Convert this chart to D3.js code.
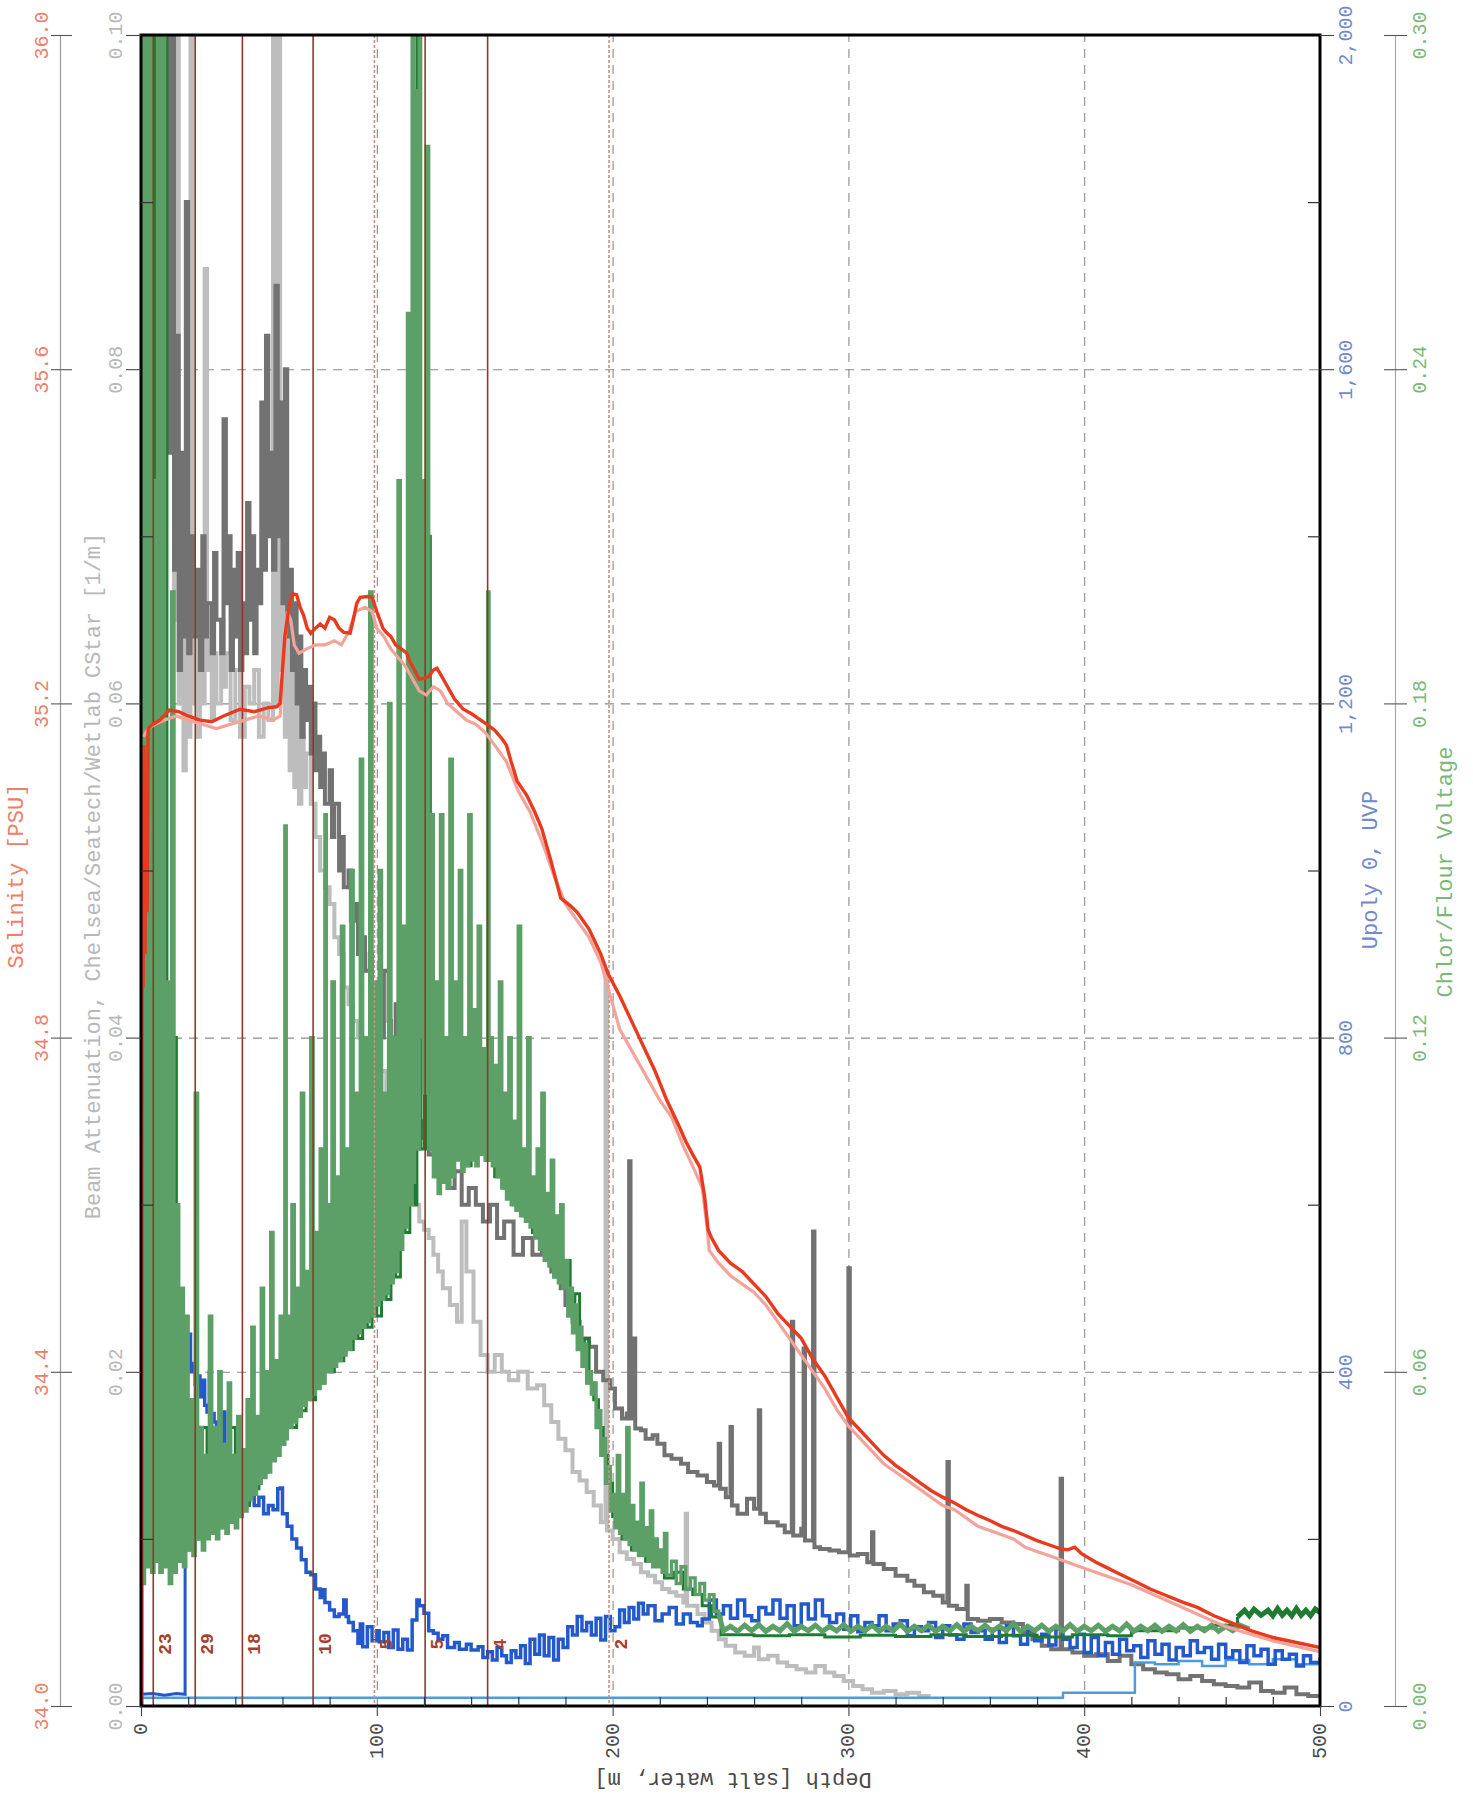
<!DOCTYPE html>
<html><head><meta charset="utf-8">
<script src="https://cdn.jsdelivr.net/npm/d3@7"></script>
<style>
html,body{margin:0;padding:0;background:#fff;}
svg{display:block;font-family:"Liberation Mono","DejaVu Sans Mono",monospace;}
</style></head><body>
<svg id="chart" width="1473" height="1796"></svg>
<script>
// ---------------- DATA ----------------
const depthTicks = [0,100,200,300,400,500];
const salinityTicks = [34.0,34.4,34.8,35.2,35.6,36.0];
const beamTicks = [0.00,0.02,0.04,0.06,0.08,0.10];
const upolyTicks = [0,400,800,1200,1600,2000];
const chlorTicks = [0.00,0.06,0.12,0.18,0.24,0.30];

const bottleDepths = [5.2,23,43,73,99,120.5,147,198.5];
const bottleLabels = ["23","29","18","10","5","5","4","2"];

// Salinity [PSU] – downcast (red)
const salinityDown = [[0.3,33.0],[0.5,35.1],[0.9,34.86],[1.3,35.15],[1.7,34.9],[2.1,35.12],[2.6,34.95],[3,35.17],[5,35.175],[8,35.18],[12,35.192],[16,35.19],[20,35.185],[25,35.18],[30,35.178],[35,35.185],[42,35.193],[48,35.19],[54,35.195],[57.5,35.196],[59,35.2],[61,35.28],[63,35.32],[64.5,35.331],[66,35.33],[67.5,35.315],[69,35.305],[70.5,35.29],[72,35.284],[74,35.29],[76,35.295],[78,35.29],[80,35.303],[82,35.3],[84,35.29],[86,35.285],[88.7,35.284],[90,35.3],[91.5,35.32],[93,35.327],[96,35.328],[98,35.327],[100,35.31],[102.6,35.29],[104,35.285],[106,35.28],[108,35.27],[110.5,35.265],[112.7,35.26],[114,35.25],[116,35.24],[118,35.229],[120,35.23],[122,35.232],[124,35.24],[125.5,35.242],[127,35.235],[129,35.225],[131,35.215],[133,35.205],[136.7,35.193],[140,35.188],[143,35.182],[146.7,35.175],[150,35.168],[153,35.158],[155,35.15],[157,35.13],[159.5,35.107],[163.6,35.09],[167,35.07],[170,35.05],[174,35.01],[178,34.967],[182,34.958],[185,34.95],[190,34.93],[195,34.9],[198,34.877],[203,34.85],[208,34.82],[213,34.79],[218,34.76],[223,34.725],[228,34.695],[231,34.676],[234,34.66],[237,34.645],[239,34.61],[240.5,34.57],[242,34.56],[245,34.545],[250,34.53],[255,34.52],[260,34.505],[265,34.49],[270,34.47],[275,34.455],[280,34.44],[285,34.415],[290,34.395],[295,34.37],[300,34.345],[305,34.33],[310,34.315],[315,34.3],[320,34.288],[325,34.278],[330,34.268],[335,34.258],[340,34.25],[345,34.243],[350,34.235],[355,34.228],[360,34.222],[365,34.215],[370,34.21],[375,34.204],[380,34.198],[385,34.193],[390,34.188],[393,34.187],[396,34.19],[399,34.182],[405,34.172],[410,34.165],[415,34.158],[421,34.15],[428,34.14],[435,34.132],[442,34.124],[448,34.118],[455,34.108],[462,34.1],[471,34.09],[480,34.082],[490,34.076],[500,34.07]];

// Salinity – upcast (pink)
const salinityUp = [[1,35.16],[3,35.17],[6,35.175],[10,35.18],[15,35.185],[20,35.18],[26,35.175],[32,35.17],[38,35.175],[44,35.18],[50,35.185],[56,35.18],[59,35.185],[60.5,35.25],[62,35.31],[63.5,35.3],[65,35.27],[67,35.26],[70,35.265],[74,35.27],[78,35.27],[82,35.275],[85,35.27],[88,35.285],[91,35.31],[95,35.315],[98,35.31],[100,35.29],[103,35.28],[106,35.265],[109,35.255],[112,35.245],[115,35.23],[118,35.215],[121,35.21],[124,35.22],[127,35.215],[130,35.2],[134,35.19],[138,35.18],[142,35.175],[146,35.165],[150,35.15],[155,35.13],[160,35.095],[165,35.07],[170,35.035],[175,34.995],[180,34.96],[185,34.94],[190,34.92],[195,34.89],[198,34.86],[200,34.84],[203,34.81],[205,34.8],[210,34.775],[215,34.75],[220,34.725],[225,34.705],[230,34.67],[235,34.64],[238,34.62],[240,34.575],[241,34.545],[245,34.53],[250,34.515],[255,34.505],[260,34.495],[265,34.48],[270,34.46],[275,34.44],[280,34.42],[285,34.4],[290,34.38],[295,34.355],[300,34.335],[305,34.32],[310,34.305],[315,34.29],[320,34.28],[325,34.27],[330,34.26],[335,34.25],[340,34.24],[345,34.235],[350,34.225],[355,34.215],[360,34.21],[365,34.205],[370,34.2],[375,34.19],[380,34.185],[385,34.18],[390,34.175],[395,34.17],[400,34.165],[420,34.145],[440,34.12],[460,34.095],[480,34.078],[500,34.065]];

// Beam attenuation [1/m] – dark gray
const beamDark = [[0,0.12],[12,0.075],[13,0.1],[14,0.068],[15,0.082],[16,0.062],[17,0.075],[18,0.064],[19,0.09],[20,0.063],[21,0.07],[22,0.064],[24,0.068],[25,0.062],[26,0.07],[27,0.064],[28,0.066],[30,0.063],[31,0.069],[32,0.065],[34,0.063],[35,0.077],[36,0.066],[37,0.07],[38,0.062],[39,0.068],[40,0.064],[41,0.069],[42,0.062],[43,0.066],[44,0.063],[45,0.072],[46,0.065],[47,0.07],[48,0.063],[49,0.068],[50,0.066],[51,0.078],[52,0.068],[53,0.082],[54,0.07],[55,0.075],[56,0.068],[57,0.085],[58,0.07],[59,0.078],[60,0.066],[61,0.08],[62,0.064],[63,0.068],[64,0.062],[65,0.066],[66,0.06],[67,0.064],[68,0.058],[69,0.062],[70,0.059],[71,0.061],[72,0.057],[73,0.06],[74,0.056],[75,0.058],[76,0.055],[77,0.057],[78,0.054],[80,0.056],[81,0.052],[82,0.054],[84,0.05],[85,0.052],[86,0.049],[88,0.05],[89,0.047],[91,0.048],[92,0.045],[94,0.046],[95,0.044],[97,0.045],[98,0.042],[100,0.043],[101,0.04],[103,0.044],[105,0.041],[106,0.04],[108,0.042],[110,0.039],[112,0.038],[114,0.036],[116,0.037],[118,0.034],[120,0.035],[122,0.033],[124,0.034],[126,0.032],[128,0.033],[130,0.031],[133,0.032],[136,0.03],[139,0.031],[142,0.03],[145,0.029],[148,0.03],[151,0.028],[154,0.029],[158,0.027],[162,0.028],[166,0.027],[170,0.0275],[174,0.026],[178,0.025],[180,0.024],[183,0.023],[186,0.022],[190,0.0215],[193,0.02],[196,0.0195],[199,0.019],[201,0.0178],[204,0.0172],[206,0.0175],[207,0.0326],[207.6,0.0172],[209,0.022],[209.6,0.0166],[212,0.0165],[214,0.016],[217,0.0162],[219,0.0157],[222,0.015],[225,0.0148],[229,0.0145],[232,0.014],[236,0.0138],[240,0.0134],[243,0.0132],[245,0.0157],[245.6,0.013],[248,0.0125],[250,0.0167],[250.6,0.012],[253,0.0115],[257,0.0124],[260,0.0118],[262,0.0177],[262.6,0.0115],[265,0.011],[270,0.0108],[273,0.0104],[276,0.023],[276.6,0.0102],[280,0.0106],[281,0.0214],[281.6,0.0099],[285,0.0284],[285.6,0.0095],[288,0.0094],[292,0.0093],[296,0.0092],[300,0.0262],[300.6,0.009],[304,0.0091],[308,0.0086],[310,0.0104],[310.6,0.0085],[315,0.0082],[320,0.0078],[325,0.0075],[328,0.0072],[332,0.0068],[336,0.0066],[340,0.0062],[342,0.0146],[342.6,0.006],[346,0.0058],[350,0.0072],[350.6,0.0052],[355,0.0051],[360,0.0052],[365,0.005],[370,0.0049],[374,0.0044],[378,0.004],[382,0.0036],[386,0.0034],[390,0.0136],[390.6,0.0034],[395,0.0032],[400,0.003],[405,0.0031],[410,0.0027],[415,0.003],[420,0.0025],[425,0.0022],[430,0.002],[435,0.0019],[440,0.0016],[445,0.0018],[450,0.0015],[455,0.0013],[460,0.0012],[465,0.0011],[470,0.0014],[475,0.0009],[480,0.0008],[485,0.0011],[490,0.0007],[495,0.0006],[500,0.0007]];

// Beam attenuation – light gray
const beamLight = [[0,0.12],[13,0.1],[14,0.065],[15,0.12],[16,0.06],[17,0.07],[18,0.056],[19,0.068],[20,0.058],[21,0.12],[22,0.06],[23,0.066],[24,0.058],[25,0.064],[26,0.06],[27,0.086],[28,0.062],[29,0.066],[30,0.059],[31,0.063],[32,0.06],[34,0.065],[35,0.061],[36,0.063],[38,0.059],[40,0.062],[42,0.058],[44,0.061],[46,0.06],[48,0.062],[50,0.058],[52,0.06],[54,0.059],[56,0.12],[57,0.06],[58,0.1],[59,0.062],[60,0.066],[61,0.058],[62,0.064],[63,0.056],[64,0.062],[65,0.055],[66,0.06],[67,0.054],[68,0.058],[69,0.055],[70,0.057],[72,0.054],[74,0.052],[76,0.05],[78,0.049],[80,0.048],[82,0.046],[84,0.045],[86,0.043],[88,0.042],[90,0.041],[92,0.04],[94,0.039],[96,0.038],[98,0.037],[100,0.036],[102,0.038],[104,0.036],[106,0.035],[108,0.034],[110,0.033],[112,0.032],[114,0.031],[116,0.03],[118,0.029],[120,0.0285],[122,0.028],[124,0.027],[126,0.026],[128,0.025],[131,0.024],[134,0.023],[136,0.029],[138,0.026],[141,0.023],[144,0.021],[147,0.02],[150,0.021],[153,0.02],[156,0.0195],[160,0.02],[164,0.019],[168,0.0192],[171,0.018],[174,0.017],[177,0.016],[180,0.0153],[183,0.014],[186,0.0135],[189,0.0128],[192,0.012],[195,0.011],[197,0.044],[197.6,0.0105],[200,0.01],[203,0.0092],[206,0.0088],[209,0.0085],[212,0.008],[215,0.0078],[218,0.0074],[221,0.007],[224,0.0068],[227,0.0066],[230,0.0062],[231,0.0115],[231.6,0.006],[233,0.006],[236,0.0055],[239,0.005],[242,0.0045],[245,0.004],[248,0.0036],[252,0.0032],[256,0.003],[260,0.0035],[262,0.0028],[266,0.003],[270,0.0026],[274,0.0024],[278,0.0022],[282,0.002],[286,0.0024],[290,0.002],[294,0.0018],[298,0.0015],[302,0.0012],[306,0.001],[310,0.0008],[315,0.0009],[320,0.0007],[325,0.0008],[330,0.0006],[334,0.0005]];

// Upoly 0, UVP – dark blue (surface leg and profile)
const upolySurface = [[0,14],[5,15],[10,13],[15,15],[18.7,14],[18.7,440]];
const upolyUpper = [[8.3,1140],[8.3,527],[10,530],[11.5,527],[13,520],[15,480],[17.5,450]];
const upolyProfile = [[18.7,440],[20,445],[21,400],[22,410],[23,385],[24,395],[25,370],[26,390],[27,360],[28,352],[29,400],[29.6,350],[31,340],[32,320],[33,335],[34,310],[35,352],[35.6,306],[36,300],[37,270],[38,254],[40,250],[42,265],[44,245],[46,255],[48,240],[50,250],[52,230],[54,240],[56,235],[58,260],[59,261],[60,230],[62,215],[64,200],[66,189],[68,175],[70,160],[72,157],[74,140],[76,130],[77,139],[78,124],[80,115],[82,107],[84,110],[86,127],[87,107],[88,100],[90,90],[92,75],[93,98],[94,71],[96,95],[98,78],[100,90],[101,77],[103,88],[105,70],[107,91],[109,68],[111,80],[113,67],[115,103],[117,127],[118,120],[120,111],[122,90],[124,87],[126,80],[128,84],[130,70],[133,76],[135,68],[138,74],[140,67],[143,71],[145,58],[147,65],[149,55],[151,70],[153,60],[155,52],[157,66],[159,58],[161,72],[163,51],[165,80],[167,62],[169,85],[171,60],[173,82],[175,55],[177,80],[179,70],[181,95],[183,85],[185,107],[187,90],[189,100],[191,85],[193,105],[195,79],[197,107],[199,90],[201,95],[203,115],[205,100],[207,118],[209,104],[211,123],[213,110],[215,120],[218,102],[221,110],[224,118],[227,98],[230,110],[233,100],[236,96],[238,104],[241,127],[244,110],[247,120],[250,105],[253,127],[256,108],[259,102],[262,118],[265,110],[268,127],[271,105],[274,120],[277,96],[280,122],[283,104],[286,127],[289,108],[292,100],[295,110],[298,92],[301,108],[304,89],[307,100],[310,96],[313,108],[316,90],[319,98],[322,102],[325,84],[328,95],[331,90],[334,100],[337,82],[340,96],[343,85],[346,80],[349,98],[352,88],[355,90],[358,80],[361,92],[364,76],[367,96],[370,84],[373,74],[376,90],[379,78],[382,86],[385,73],[388,92],[391,80],[394,70],[397,86],[400,64],[403,82],[406,60],[409,76],[412,62],[415,80],[418,66],[421,72],[424,58],[427,78],[430,62],[433,74],[436,55],[439,70],[442,60],[445,78],[448,64],[451,70],[454,56],[457,74],[460,58],[463,66],[466,52],[469,72],[472,60],[475,68],[478,50],[481,66],[484,56],[487,62],[490,48],[493,60],[496,52],[500,58]];

// Upoly – light blue
const upolyLight = [[0,10],[200,10],[390,10],[391,16],[421,16],[421.5,52],[430,50],[440,54],[450,48],[460,55],[470,50],[480,56],[490,50],[500,54]];

// Chlor/Flour Voltage – medium green (upper column)
const chlorA = [[0,0.35],[1,0.022],[1.5,0.35],[2.5,0.025],[3.5,0.35],[4.5,0.024],[5.5,0.22],[6.3,0.026],[7,0.35],[8,0.024],[9,0.35],[10,0.025],[11,0.13],[12,0.022],[13,0.2],[14,0.024],[15,0.09],[16,0.026],[17,0.075],[18,0.025],[19,0.07],[20,0.028],[21,0.055],[22,0.027],[23,0.11],[24,0.03],[25,0.05],[26,0.028],[27,0.045],[28,0.03],[29,0.07],[30,0.031],[31,0.05],[32,0.03],[33,0.06],[34,0.032],[35,0.047],[36,0.031],[37,0.058],[38,0.033],[39,0.045],[40,0.032],[41,0.052],[42,0.034],[43,0.046],[44,0.035],[45,0.055],[46,0.037],[47,0.068],[48,0.038],[49,0.052],[50,0.04],[51,0.075],[52,0.041],[53,0.06],[54,0.042],[55,0.085],[56,0.044],[57,0.062],[58,0.045],[59,0.07],[60,0.047],[61,0.158],[61.6,0.048],[62,0.07],[63,0.05],[64,0.09],[65,0.051],[66,0.075],[67,0.052],[68,0.11],[69,0.054],[70,0.078],[71,0.055],[72,0.12],[73,0.056],[74,0.085],[75,0.057],[76,0.1],[77,0.058],[78,0.16],[78.6,0.06],[79,0.09],[80,0.06],[81,0.13],[82,0.061],[83,0.095],[84,0.062],[85,0.14],[86,0.063],[87,0.1],[88,0.064],[89,0.15],[90,0.066],[91,0.11],[92,0.067],[93,0.17],[94,0.068],[95,0.12],[96,0.069],[97,0.2],[98,0.07],[99,0.13],[100,0.072],[101,0.15],[102,0.073],[103,0.11],[104,0.074],[105,0.18],[106,0.076],[107,0.12],[108,0.078],[109,0.22],[110,0.082],[111,0.14],[112,0.086],[113,0.25],[114,0.09],[115,0.3],[115.6,0.094],[116,0.29],[117,0.1],[118,0.35],[118.6,0.12],[119,0.22],[120,0.11],[121,0.28],[122,0.1],[123,0.16],[124,0.095],[125,0.13],[126,0.092],[127,0.16],[128,0.094],[129,0.12],[130,0.093],[131,0.17],[132,0.095],[133,0.13],[134,0.098],[135,0.15],[136,0.096],[137,0.12],[138,0.097],[139,0.16],[140,0.098],[141,0.125],[142,0.097],[143,0.14],[144,0.099],[145,0.118],[146,0.098],[147,0.2],[147.6,0.098],[148,0.12],[149,0.097],[150,0.115],[151,0.095],[152,0.13],[153,0.093],[154,0.11],[155,0.091],[156,0.12],[157,0.09],[158,0.105],[159,0.089],[160,0.14],[161,0.088],[162,0.1],[163,0.087],[164,0.12],[165,0.086],[166,0.095],[167,0.084],[168,0.1],[169,0.082],[170,0.11],[171,0.08],[172,0.092],[173,0.079],[174,0.098],[175,0.077],[176,0.088],[177,0.076],[178,0.09],[179,0.075],[180,0.08],[181,0.07],[182,0.075],[183,0.067],[184,0.072],[185,0.064],[186,0.068],[187,0.061],[188,0.065],[189,0.058],[190,0.06],[191,0.056],[192,0.058],[193,0.05],[194,0.053],[195,0.045],[196,0.048],[197,0.04],[198,0.043],[199,0.035],[200,0.038],[201,0.032],[202,0.045],[203,0.031],[204,0.038],[205,0.03],[206,0.05],[207,0.029],[208,0.036],[209,0.028],[210,0.033],[211,0.027],[212,0.04],[213,0.027],[214,0.032],[215,0.026],[216,0.035],[217,0.025],[218,0.03],[219,0.025],[220,0.028],[221,0.024],[222,0.031],[223,0.0235],[225,0.026],[227,0.022],[229,0.025],[231,0.021],[233,0.023],[235,0.02],[237,0.022],[239,0.019],[241,0.02],[243,0.017],[245,0.0165]];
// medium green deep tail (thick band)
const chlorATail = [[245,0.0165],[247,0.0135],[250,0.0143],[253,0.0134],[256,0.0145],[259,0.0135],[262,0.0146],[265,0.0134],[268,0.0143],[271,0.0135],[274,0.0148],[277,0.0134],[280,0.0143],[283,0.0135],[286,0.0145],[289,0.0134],[292,0.0143],[295,0.0135],[298,0.0146],[301,0.0134],[304,0.0143],[307,0.0135],[310,0.0145],[313,0.0134],[316,0.0143],[319,0.0135],[322,0.0147],[325,0.0134],[328,0.0143],[331,0.0135],[334,0.0145],[337,0.0134],[340,0.0143],[343,0.0135],[346,0.0146],[349,0.0134],[352,0.0143],[355,0.0135],[358,0.0145],[361,0.0134],[364,0.0143],[367,0.0135],[370,0.0148],[373,0.0134],[376,0.0143],[379,0.0135],[382,0.0145],[385,0.0134],[388,0.0143],[391,0.0135],[394,0.0146],[397,0.0134],[400,0.0143],[403,0.0135],[406,0.0145],[409,0.0134],[412,0.0143],[415,0.0135],[418,0.0147],[421,0.0134],[424,0.0143],[427,0.0135],[430,0.0145],[433,0.0134],[436,0.0143],[439,0.0135],[442,0.0146],[445,0.0134],[448,0.0143],[451,0.0135],[454,0.0145],[457,0.0134],[460,0.0143],[463,0.0135],[466,0.0145],[470,0.0138]];

// Chlor/Flour Voltage – dark green
const chlorB = [[0,0.35],[0.8,0.03],[2,0.35],[3,0.028],[4,0.35],[5,0.03],[6,0.35],[6.8,0.027],[8,0.3],[9,0.026],[10,0.35],[11,0.028],[12,0.09],[13,0.027],[14,0.12],[15,0.028],[16,0.06],[17,0.027],[18,0.05],[19,0.03],[20,0.028],[22,0.042],[24,0.03],[26,0.05],[28,0.031],[30,0.045],[32,0.032],[34,0.04],[36,0.033],[38,0.05],[40,0.034],[42,0.043],[44,0.036],[46,0.045],[48,0.039],[50,0.05],[52,0.042],[54,0.05],[56,0.045],[58,0.055],[60,0.048],[62,0.06],[64,0.05],[66,0.062],[68,0.053],[70,0.064],[72,0.055],[74,0.065],[76,0.058],[78,0.068],[80,0.06],[82,0.07],[84,0.062],[86,0.072],[88,0.064],[90,0.075],[92,0.066],[94,0.078],[96,0.068],[98,0.08],[100,0.07],[102,0.085],[104,0.073],[106,0.09],[108,0.077],[110,0.1],[112,0.085],[114,0.12],[116,0.09],[117,0.35],[117.8,0.3],[118.5,0.1],[120,0.13],[121,0.1],[122,0.21],[122.7,0.1],[124,0.11],[126,0.097],[128,0.105],[130,0.096],[132,0.11],[134,0.1],[136,0.105],[138,0.097],[140,0.11],[142,0.099],[144,0.104],[146,0.098],[148,0.106],[150,0.095],[152,0.1],[154,0.093],[156,0.098],[158,0.09],[160,0.095],[162,0.088],[164,0.093],[166,0.085],[168,0.09],[170,0.082],[172,0.088],[174,0.08],[176,0.085],[178,0.076],[180,0.08],[182,0.072],[184,0.074],[186,0.065],[188,0.066],[190,0.058],[192,0.055],[194,0.05],[196,0.045],[198,0.04],[200,0.034],[202,0.036],[204,0.03],[206,0.033],[208,0.028],[210,0.03],[214,0.026],[218,0.027],[222,0.023],[226,0.024],[230,0.021],[234,0.02],[238,0.018],[242,0.016],[246,0.0128],[260,0.0126],[275,0.0128],[290,0.0124],[305,0.0127],[320,0.0125],[335,0.0128],[350,0.0125],[365,0.0127],[380,0.0124],[395,0.0128],[410,0.0126],[420,0.0135],[440,0.014],[455,0.0145],[465,0.016]];
// dark green deep tail (thick band)
const chlorBTail = [[465,0.016],[468,0.0172],[470,0.0162],[472,0.0174],[475,0.0163],[478,0.0172],[480,0.0162],[482,0.0175],[484,0.0163],[486,0.0172],[488,0.0162],[490,0.0175],[492,0.0163],[494,0.0172],[496,0.0162],[498,0.0174],[500,0.0168]];

// ---------------- DRAWING ----------------
const svg = d3.select("#chart");
const L = 141, R = 1320, T = 35, B = 1706;
const x = d3.scaleLinear([0,500],[L,R]);
const ySal = d3.scaleLinear([34,36],[B,T]);
const yBeam = d3.scaleLinear([0,0.1],[B,T]);
const yUp = d3.scaleLinear([0,2000],[B,T]);
const yChl = d3.scaleLinear([0,0.3],[B,T]);

svg.append("rect").attr("width",1473).attr("height",1796).attr("fill","#fff");

svg.append("defs").append("clipPath").attr("id","plotclip")
  .append("rect").attr("x",L).attr("y",T).attr("width",R-L).attr("height",B-T);

// gridlines
const gridH = svg.append("g").attr("transform",`translate(${L},0)`)
  .call(d3.axisRight(yBeam).tickValues([0.02,0.04,0.06,0.08]).tickSize(R-L).tickFormat(""));
const gridV = svg.append("g").attr("transform",`translate(0,${B})`)
  .call(d3.axisTop(x).tickValues([100,200,300,400]).tickSize(B-T).tickFormat(""));
[gridH,gridV].forEach(g=>{
  g.select(".domain").remove();
  g.selectAll("line").attr("stroke","#8a8a8a").attr("stroke-width",1.1).attr("stroke-dasharray","9,7");
});

// data layer
const plot = svg.append("g").attr("clip-path","url(#plotclip)");
const step = d3.curveStepAfter;
function drawLine(data, yScale, color, width, curve){
  plot.append("path").datum(data)
    .attr("fill","none").attr("stroke",color).attr("stroke-width",width)
    .attr("stroke-linejoin","miter")
    .attr("d", d3.line().x(d=>x(d[0])).y(d=>yScale(d[1])).curve(curve||d3.curveLinear));
}
drawLine(beamLight, yBeam, "#bdbdbd", 4, step);
drawLine(beamDark, yBeam, "#727272", 4, step);
drawLine(upolyLight, yUp, "#4c9be0", 2.5, step);
drawLine(upolySurface, yUp, "#2459cc", 3, d3.curveLinear);
drawLine(upolyUpper, yUp, "#2459cc", 3, step);
drawLine(upolyProfile, yUp, "#2459cc", 3.5, step);
drawLine(chlorB, yChl, "#1f7b32", 3, step);
drawLine(chlorBTail, yChl, "#1f7b32", 5, d3.curveLinear);
drawLine(chlorA, yChl, "#5c9f67", 3.4, step);
drawLine(chlorATail, yChl, "#5c9f67", 5, d3.curveLinear);

// bottle lines
const bottles = plot.append("g");
bottles.selectAll("line").data(bottleDepths).join("line")
  .attr("x1",d=>x(d)).attr("x2",d=>x(d)).attr("y1",T).attr("y2",B)
  .attr("stroke",(d,i)=> (i===4||i===7)?"#c89080":"#8c3a26")
  .attr("stroke-width",1.6)
  .attr("stroke-dasharray",(d,i)=> (i===4||i===7)?"3,2":null);
bottles.selectAll("text").data(bottleDepths).join("text")
  .attr("transform",d=>`translate(${x(d)+13},1644) rotate(-90)`)
  .attr("text-anchor","middle").attr("dominant-baseline","central")
  .attr("font-size",18).attr("font-weight","bold").attr("fill","#a8402c")
  .text((d,i)=>bottleLabels[i]);

drawLine(salinityUp, ySal, "#f4a39a", 3.2);
drawLine(salinityDown, ySal, "#e83a1e", 3.4);

// frame
svg.append("rect").attr("x",L).attr("y",T).attr("width",R-L).attr("height",B-T)
  .attr("fill","none").attr("stroke","#000").attr("stroke-width",3);

// inner minor ticks
const minL = svg.append("g").attr("transform",`translate(${L},0)`)
  .call(d3.axisLeft(yBeam).tickValues([0.01,0.03,0.05,0.07,0.09]).tickSize(-12).tickFormat(""));
const minR = svg.append("g").attr("transform",`translate(${R},0)`)
  .call(d3.axisRight(yUp).tickValues([200,600,1000,1400,1800]).tickSize(-12).tickFormat(""));
const minB = svg.append("g").attr("transform",`translate(0,${B})`)
  .call(d3.axisBottom(x).tickValues(d3.range(20,500,20).filter(v=>v%100!==0)).tickSize(-9).tickFormat(""));
[minL,minR,minB].forEach(g=>{g.select(".domain").remove(); g.selectAll("line").attr("stroke","#333").attr("stroke-width",1.2);});

function styleRot(g, color, offX, offY, anchor){
  g.selectAll(".tick text")
    .attr("x",null).attr("y",null).attr("dy",null)
    .attr("transform",`translate(${offX},${offY}) rotate(-90)`)
    .attr("text-anchor",anchor||"middle").attr("dominant-baseline","central")
    .attr("fill",color).attr("font-size",20).attr("font-family","Liberation Mono, monospace");
}

// Beam axis (left frame)
const gBeam = svg.append("g").attr("transform",`translate(${L},0)`)
  .call(d3.axisLeft(yBeam).tickValues(beamTicks).tickSize(15).tickSizeOuter(0).tickFormat(d3.format(".2f")));
gBeam.select(".domain").remove();
gBeam.selectAll("line").attr("stroke","#444").attr("stroke-width",1.1);
styleRot(gBeam, "#b8b8b8", -25, 0);

// Salinity axis (outer left)
const gSal = svg.append("g").attr("transform",`translate(60,0)`)
  .call(d3.axisLeft(ySal).tickValues(salinityTicks).tickSize(9).tickSizeOuter(0).tickFormat(d3.format(".1f")));
gSal.select(".domain").attr("stroke","#9a9a9a").attr("stroke-width",1.2);
gSal.selectAll(".tick line").attr("x1",12).attr("stroke","#555").attr("stroke-width",1.1);
styleRot(gSal, "#ec8068", -18, 0);

// Upoly axis (right frame)
const gUp = svg.append("g").attr("transform",`translate(${R},0)`)
  .call(d3.axisRight(yUp).tickValues(upolyTicks).tickSize(14).tickSizeOuter(0).tickFormat(d3.format(",")));
gUp.select(".domain").remove();
gUp.selectAll("line").attr("stroke","#444").attr("stroke-width",1.1);
styleRot(gUp, "#7189cc", 26, 0);

// Chlor axis (outer right)
const gChl = svg.append("g").attr("transform",`translate(1395,0)`)
  .call(d3.axisRight(yChl).tickValues(chlorTicks).tickSize(12).tickSizeOuter(0).tickFormat(d3.format(".2f")));
gChl.select(".domain").attr("stroke","#a8a8a8").attr("stroke-width",1.2);
gChl.selectAll(".tick line").attr("x1",-11).attr("stroke","#555").attr("stroke-width",1.1);
styleRot(gChl, "#7ab87a", 25, 0);

// Depth axis (bottom)
const gDepth = svg.append("g").attr("transform",`translate(0,${B})`)
  .call(d3.axisBottom(x).tickValues(depthTicks).tickSize(10).tickSizeOuter(0).tickFormat(d3.format("d")));
gDepth.select(".domain").remove();
gDepth.selectAll("line").attr("stroke","#444").attr("stroke-width",1.1);
styleRot(gDepth, "#4a4a4a", 0, 17, "end");

// titles
const title = (txt, tx, ty, rot, color) => svg.append("text")
  .attr("transform",`translate(${tx},${ty}) rotate(${rot})`)
  .attr("text-anchor","middle").attr("dominant-baseline","central")
  .attr("font-size",22).attr("fill",color).text(txt);
title("Salinity [PSU]", 17, 876, -90, "#ec8068");
title("Beam Attenuation, Chelsea/Seatech/Wetlab CStar [1/m]", 94, 876, -90, "#b8b8b8");
title("Upoly 0, UVP", 1371, 870, -90, "#7189cc");
title("Chlor/Flour Voltage", 1446, 872, -90, "#7ab87a");
title("Depth [salt water, m]", 733, 1778, 180, "#4a4a4a");
</script>
</body></html>
